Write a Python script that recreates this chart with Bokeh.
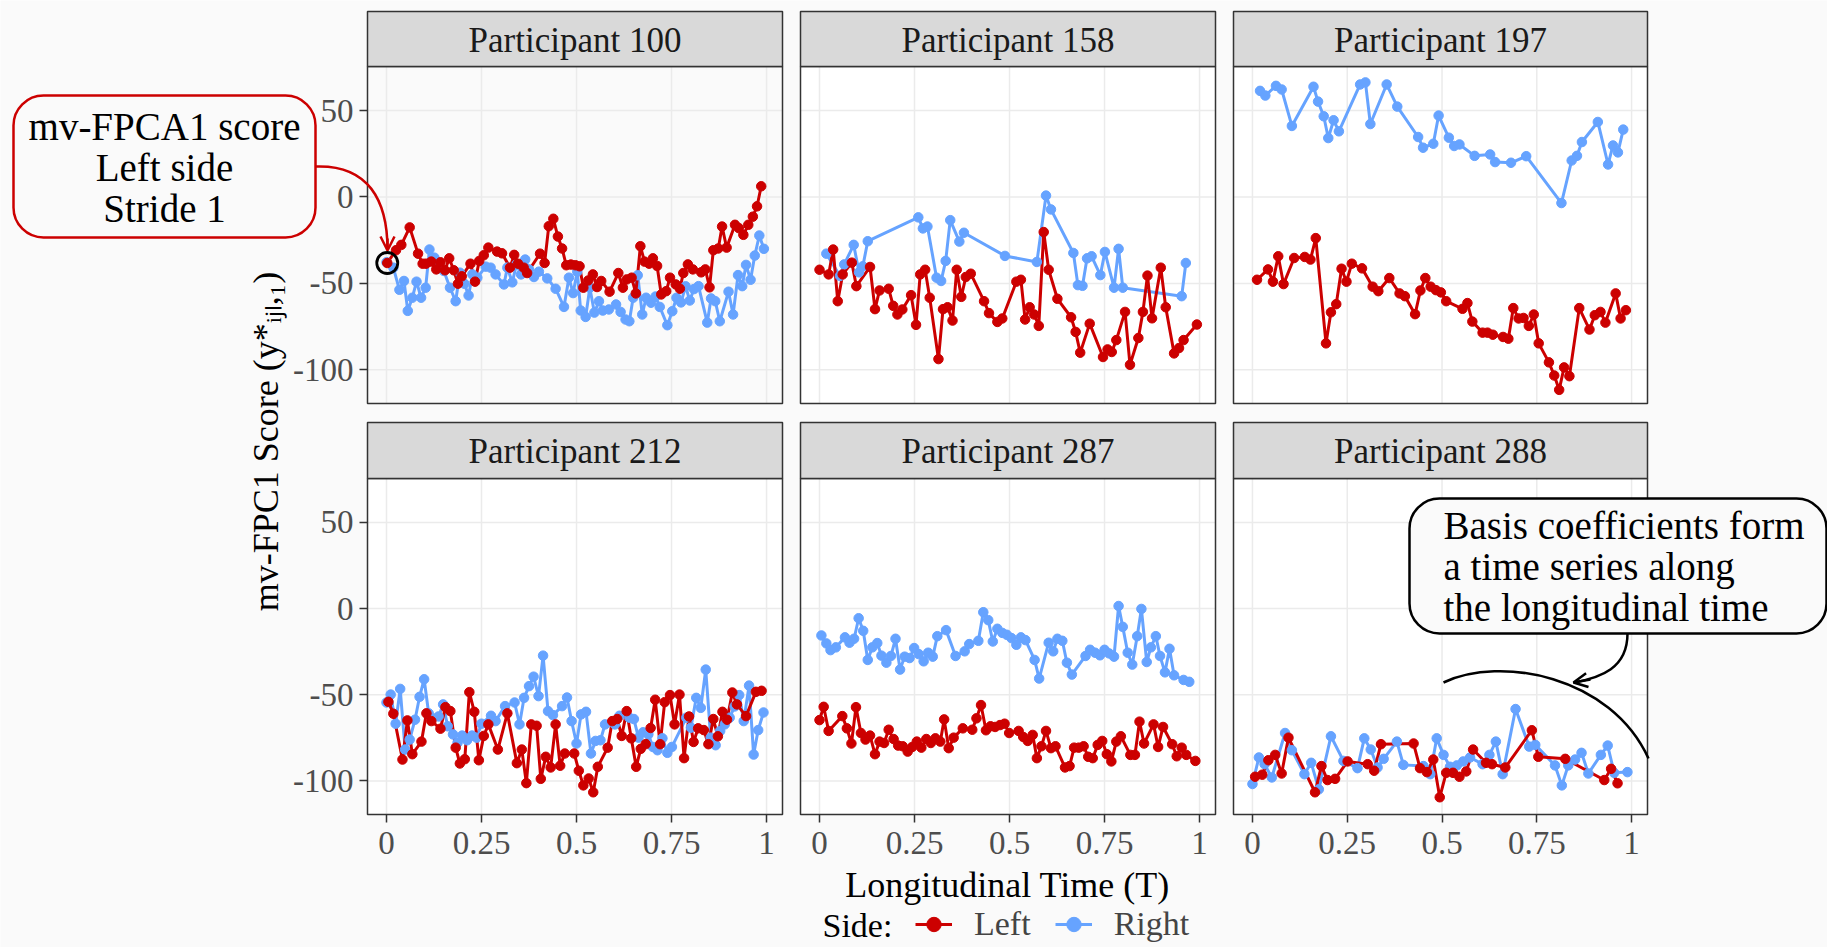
import math
from bokeh.plotting import figure
from bokeh.models import (Range1d, LinearAxis, FixedTicker, BoxAnnotation, Arrow,
                          OpenHead, Legend, LegendItem)
from bokeh.core.properties import value
from bokeh.embed import file_html
from bokeh.resources import INLINE

# ---------------- data: (longitudinal time, score) ----------------
PARTICIPANTS = ["Participant 100", "Participant 158", "Participant 197",
                "Participant 212", "Participant 287", "Participant 288"]

P100_LEFT = [(0.002,-38.2),(0.025,-30.8),(0.039,-27.7),(0.061,-17.6),(0.083,-32.8),(0.095,-38.6),(0.104,-38.6),
    (0.118,-37.4),(0.131,-41.9),(0.142,-37.8),(0.154,-42.4),(0.165,-35.5),(0.177,-42.4),(0.188,-50.2),(0.198,-45.9),
    (0.221,-38.6),(0.233,-49.0),(0.244,-37.0),(0.256,-33.7),(0.268,-29.3),(0.291,-31.6),(0.304,-32.6),(0.325,-40.9),
    (0.336,-33.5),(0.346,-38.6),(0.361,-40.9),(0.370,-44.0),(0.404,-32.8),(0.416,-38.2),(0.427,-16.9),(0.439,-12.6),
    (0.451,-22.9),(0.462,-29.8),(0.473,-39.5),(0.485,-39.1),(0.497,-39.5),(0.508,-40.1),(0.518,-52.5),(0.531,-48.3),
    (0.543,-44.8),(0.554,-52.1),(0.565,-48.6),(0.587,-54.8),(0.610,-44.0),(0.622,-52.5),(0.632,-47.7),(0.645,-46.7),
    (0.656,-55.8),(0.668,-28.5),(0.679,-37.4),(0.691,-38.6),(0.701,-35.5),(0.712,-39.9),(0.723,-56.4),(0.736,-54.5),
    (0.746,-46.7),(0.761,-50.6),(0.772,-53.1),(0.781,-44.0),(0.793,-39.0),(0.806,-41.9),(0.828,-43.6),(0.839,-41.9),
    (0.850,-52.3),(0.860,-30.8),(0.873,-29.8),(0.883,-17.1),(0.895,-29.3),(0.917,-16.1),(0.927,-18.0),(0.939,-21.9),
    (0.952,-16.1),(0.964,-11.4),(0.975,-5.4),(0.986,6.2)]
P100_RIGHT = [(0.000,-37.8),(0.018,-40.9),(0.034,-53.7),(0.046,-48.6),(0.056,-65.9),(0.068,-58.3),(0.079,-49.0),
    (0.091,-58.3),(0.103,-52.5),(0.113,-30.4),(0.126,-35.1),(0.140,-38.0),(0.151,-42.8),(0.167,-52.5),(0.182,-60.3),
    (0.193,-43.8),(0.205,-50.2),(0.216,-57.0),(0.226,-44.8),(0.239,-46.7),(0.261,-40.3),(0.274,-40.9),(0.287,-44.8),
    (0.309,-50.6),(0.318,-40.9),(0.331,-49.4),(0.342,-39.0),(0.354,-44.8),(0.365,-36.2),(0.375,-41.9),(0.388,-46.3),
    (0.401,-43.2),(0.423,-47.1),(0.445,-53.1),(0.467,-63.6),(0.480,-46.7),(0.491,-55.6),(0.502,-43.2),(0.511,-65.7),
    (0.524,-69.4),(0.535,-52.5),(0.547,-66.9),(0.559,-60.3),(0.569,-65.7),(0.585,-65.1),(0.604,-62.2),(0.616,-66.5),
    (0.629,-70.9),(0.639,-71.9),(0.649,-58.3),(0.661,-45.3),(0.673,-68.0),(0.683,-58.3),(0.696,-61.2),(0.708,-57.6),
    (0.719,-63.6),(0.739,-74.2),(0.752,-66.1),(0.763,-58.3),(0.775,-61.0),(0.787,-51.7),(0.798,-59.9),(0.809,-53.3),
    (0.821,-51.6),(0.844,-72.7),(0.854,-58.7),(0.865,-60.3),(0.877,-71.9),(0.900,-54.8),(0.912,-68.0),(0.925,-45.2),
    (0.936,-51.6),(0.946,-39.3),(0.958,-47.9),(0.969,-33.9),(0.981,-22.3),(0.993,-30.0)]

P158_LEFT = [(0.000,-42.1),(0.024,-44.8),(0.036,-30.4),(0.048,-60.3),(0.061,-44.8),(0.085,-38.0),(0.097,-51.6),
    (0.133,-40.5),(0.146,-64.9),(0.158,-54.1),(0.182,-53.1),(0.194,-63.0),(0.205,-68.0),(0.218,-65.1),(0.241,-56.8),
    (0.254,-74.0),(0.265,-44.8),(0.278,-42.1),(0.290,-58.3),(0.313,-93.8),(0.325,-64.9),(0.337,-63.8),(0.350,-71.5),
    (0.361,-42.1),(0.373,-57.8),(0.385,-46.3),(0.398,-44.4),(0.433,-60.3),(0.446,-67.2),(0.468,-72.3),(0.481,-70.3),
    (0.518,-49.0),(0.530,-47.9),(0.541,-70.9),(0.553,-63.8),(0.565,-68.0),(0.577,-74.6),(0.590,-20.3),(0.603,-42.1),
    (0.626,-58.9),(0.662,-69.6),(0.674,-78.1),(0.686,-90.1),(0.711,-73.3),(0.746,-92.6),(0.758,-88.2),(0.769,-89.7),
    (0.781,-82.8),(0.804,-66.5),(0.817,-97.1),(0.839,-81.6),(0.851,-66.5),(0.863,-45.5),(0.875,-70.2),(0.898,-40.9),
    (0.911,-63.8),(0.933,-90.5),(0.946,-87.4),(0.958,-82.8),(0.993,-73.8)]
P158_RIGHT = [(0.018,-32.8),(0.054,-45.7),(0.065,-39.0),(0.090,-27.7),(0.104,-43.6),(0.114,-40.1),(0.127,-25.6),
    (0.260,-11.8),(0.272,-18.2),(0.284,-17.1),(0.308,-46.7),(0.320,-48.6),(0.332,-37.0),(0.344,-13.4),(0.368,-25.8),
    (0.380,-20.7),(0.488,-34.1),(0.572,-37.6),(0.596,0.8),(0.609,-7.2),(0.668,-32.4),(0.680,-51.0),(0.692,-51.4),
    (0.704,-35.5),(0.716,-34.3),(0.739,-45.2),(0.751,-31.8),(0.775,-52.5),(0.787,-30.0),(0.798,-52.5),(0.953,-57.4),
    (0.964,-38.2)]

P197_LEFT = [(0.012,-47.9),(0.041,-41.9),(0.054,-49.0),(0.068,-34.3),(0.082,-50.4),(0.110,-35.3),(0.138,-34.7),
    (0.153,-36.2),(0.167,-23.8),(0.194,-84.7),(0.207,-66.7),(0.221,-62.0),(0.235,-41.5),(0.248,-49.0),(0.262,-38.6),
    (0.289,-41.3),(0.317,-51.9),(0.332,-54.5),(0.361,-46.9),(0.388,-55.8),(0.402,-57.4),(0.429,-67.8),(0.443,-54.1),
    (0.456,-46.9),(0.470,-51.9),(0.484,-53.9),(0.497,-55.2),(0.511,-60.3),(0.554,-64.7),(0.567,-61.4),(0.580,-72.1),
    (0.607,-78.5),(0.620,-78.5),(0.634,-79.7),(0.661,-81.0),(0.675,-82.0),(0.688,-64.3),(0.702,-70.3),(0.715,-70.0),
    (0.729,-74.6),(0.742,-68.0),(0.755,-84.7),(0.782,-95.7),(0.796,-103.3),(0.809,-111.6),(0.822,-98.6),(0.836,-103.7),
    (0.862,-64.3),(0.889,-76.7),(0.903,-68.4),(0.918,-66.5),(0.931,-72.7),(0.958,-55.8),(0.971,-70.3),(0.985,-65.5)]
P197_RIGHT = [(0.020,61.4),(0.034,58.7),(0.062,64.3),(0.077,62.2),(0.104,41.1),(0.161,63.8),(0.173,55.2),
    (0.188,46.7),(0.200,34.1),(0.214,44.4),(0.228,38.0),(0.284,65.1),(0.298,66.3),(0.311,42.2),(0.354,65.1),
    (0.382,52.3),(0.437,34.7),(0.450,28.5),(0.477,30.8),(0.491,47.1),(0.518,34.3),(0.532,29.5),(0.546,30.4),
    (0.586,23.8),(0.627,24.6),(0.640,20.2),(0.682,19.8),(0.722,23.6),(0.815,-3.5),(0.842,21.1),(0.856,23.8),
    (0.869,31.8),(0.911,43.4),(0.938,18.8),(0.951,29.8),(0.964,25.8),(0.978,39.0)]

P212_LEFT = [(0.005,-54.1),(0.018,-61.0),(0.042,-87.6),(0.055,-64.9),(0.068,-84.5),(0.092,-77.2),(0.105,-60.8),
    (0.118,-65.3),(0.142,-69.7),(0.155,-57.2),(0.168,-59.5),(0.182,-80.7),(0.193,-89.9),(0.206,-87.4),(0.218,-48.5),
    (0.231,-59.9),(0.243,-88.0),(0.256,-73.9),(0.268,-67.2),(0.293,-81.8),(0.318,-60.8),(0.343,-89.7),(0.356,-81.8),
    (0.368,-101.3),(0.381,-67.2),(0.395,-68.0),(0.406,-98.8),(0.419,-86.0),(0.432,-92.2),(0.445,-67.2),(0.457,-91.2),
    (0.469,-84.1),(0.494,-84.1),(0.506,-94.1),(0.518,-102.6),(0.532,-98.6),(0.544,-106.6),(0.556,-91.8),(0.582,-80.7),
    (0.594,-65.3),(0.607,-64.1),(0.619,-73.9),(0.632,-59.5),(0.644,-75.3),(0.657,-91.8),(0.669,-81.4),(0.682,-78.7),
    (0.695,-69.3),(0.707,-52.9),(0.720,-78.7),(0.732,-54.3),(0.746,-50.2),(0.758,-67.2),(0.771,-49.9),(0.783,-86.8),
    (0.796,-62.6),(0.808,-77.4),(0.820,-69.5),(0.835,-70.5),(0.847,-78.7),(0.860,-64.1),(0.872,-74.1),(0.884,-59.9),
    (0.896,-64.5),(0.910,-48.7),(0.922,-55.6),(0.946,-62.4),(0.972,-48.3),(0.987,-47.7)]
P212_RIGHT = [(0.000,-54.5),(0.011,-49.9),(0.024,-66.8),(0.036,-46.6),(0.049,-81.8),(0.061,-76.0),(0.075,-64.5),
    (0.087,-51.2),(0.099,-41.0),(0.111,-60.8),(0.137,-62.6),(0.149,-55.6),(0.161,-68.3),(0.175,-73.0),(0.187,-77.8),
    (0.199,-73.7),(0.212,-76.4),(0.225,-73.7),(0.237,-74.9),(0.250,-66.8),(0.275,-62.2),(0.287,-65.3),(0.312,-56.6),
    (0.337,-54.5),(0.350,-67.2),(0.362,-51.8),(0.375,-45.0),(0.387,-39.5),(0.400,-50.8),(0.412,-27.3),(0.425,-59.5),
    (0.438,-61.8),(0.462,-56.6),(0.475,-51.6),(0.487,-65.3),(0.500,-78.3),(0.512,-61.4),(0.525,-59.9),(0.538,-84.1),
    (0.550,-76.8),(0.563,-76.4),(0.575,-67.2),(0.601,-67.2),(0.613,-62.2),(0.639,-63.3),(0.651,-64.1),(0.663,-74.9),
    (0.675,-71.8),(0.689,-73.0),(0.701,-80.3),(0.713,-82.2),(0.726,-75.3),(0.739,-83.7),(0.751,-80.3),(0.789,-63.3),
    (0.801,-69.1),(0.815,-51.8),(0.827,-57.6),(0.840,-35.4),(0.853,-74.9),(0.866,-79.3),(0.878,-71.0),(0.890,-67.2),
    (0.903,-63.3),(0.916,-56.8),(0.928,-50.2),(0.940,-65.3),(0.954,-44.7),(0.966,-84.7),(0.978,-70.5),(0.992,-60.3)]

P287_LEFT = [(0.000,-64.7),(0.011,-57.0),(0.024,-71.0),(0.060,-62.4),(0.072,-69.5),(0.084,-78.3),(0.096,-57.2),
    (0.109,-72.2),(0.121,-76.0),(0.133,-73.7),(0.146,-84.5),(0.158,-77.2),(0.170,-78.0),(0.182,-70.3),(0.195,-75.7),
    (0.207,-79.5),(0.219,-79.9),(0.232,-83.0),(0.244,-80.3),(0.256,-77.2),(0.268,-80.7),(0.281,-75.7),(0.293,-78.0),
    (0.305,-75.3),(0.318,-77.2),(0.328,-64.3),(0.340,-81.0),(0.353,-74.9),(0.377,-69.5),(0.402,-70.3),(0.413,-63.7),
    (0.425,-56.0),(0.438,-70.6),(0.450,-68.3),(0.462,-68.7),(0.475,-67.6),(0.487,-66.8),(0.499,-72.2),(0.524,-71.0),
    (0.536,-74.5),(0.548,-76.8),(0.561,-73.3),(0.572,-86.8),(0.584,-79.9),(0.596,-71.0),(0.609,-81.0),(0.621,-79.9),
    (0.646,-92.2),(0.658,-91.4),(0.670,-80.7),(0.682,-80.7),(0.695,-79.9),(0.707,-86.0),(0.719,-86.8),(0.732,-79.1),
    (0.744,-76.8),(0.756,-84.5),(0.768,-88.7),(0.781,-77.2),(0.793,-74.1),(0.818,-84.9),(0.830,-84.9),(0.842,-65.6),
    (0.854,-78.3),(0.879,-67.2),(0.891,-80.3),(0.904,-68.7),(0.928,-78.7),(0.940,-85.7),(0.953,-80.7),(0.965,-84.9),
    (0.989,-88.4)]
P287_RIGHT = [(0.005,-15.6),(0.018,-20.2),(0.029,-24.1),(0.043,-22.5),(0.067,-16.7),(0.079,-19.8),(0.091,-17.5),
    (0.103,-5.6),(0.115,-12.9),(0.127,-29.8),(0.139,-22.5),(0.152,-20.0),(0.163,-27.3),(0.176,-31.4),(0.188,-27.5),
    (0.200,-17.5),(0.212,-35.4),(0.224,-27.9),(0.237,-28.7),(0.249,-22.9),(0.261,-26.4),(0.274,-30.6),(0.286,-25.6),
    (0.298,-27.9),(0.310,-16.0),(0.333,-12.5),(0.358,-27.5),(0.382,-24.8),(0.394,-20.6),(0.418,-18.7),(0.431,-2.1),
    (0.444,-6.7),(0.456,-19.1),(0.468,-11.7),(0.481,-14.1),(0.493,-15.2),(0.505,-17.1),(0.518,-21.0),(0.530,-16.7),
    (0.542,-18.3),(0.566,-29.8),(0.578,-40.6),(0.603,-19.8),(0.615,-24.8),(0.626,-17.5),(0.639,-18.7),(0.651,-31.4),
    (0.664,-38.3),(0.700,-27.5),(0.712,-23.9),(0.725,-25.6),(0.738,-27.1),(0.750,-23.9),(0.762,-26.0),(0.775,-27.9),
    (0.787,1.5),(0.798,-10.6),(0.811,-25.6),(0.823,-32.5),(0.836,-16.0),(0.847,-0.2),(0.861,-31.0),(0.872,-22.5),
    (0.885,-16.0),(0.896,-27.5),(0.909,-37.0),(0.921,-23.3),(0.933,-38.7),(0.958,-41.4),(0.973,-42.5)]

P288_LEFT = [(0.007,-97.6),(0.026,-96.4),(0.042,-88.0),(0.060,-84.9),(0.077,-95.7),(0.095,-74.9),(0.165,-106.6),
    (0.182,-91.4),(0.198,-99.5),(0.218,-98.8),(0.251,-88.7),(0.304,-90.3),(0.321,-94.1),(0.339,-78.7),(0.425,-78.3),
    (0.442,-92.6),(0.460,-94.9),(0.477,-87.6),(0.494,-109.5),(0.511,-95.3),(0.529,-95.3),(0.546,-97.6),(0.564,-94.5),
    (0.582,-81.8),(0.616,-89.5),(0.632,-90.3),(0.667,-92.2),(0.737,-70.6),(0.754,-86.0),(0.825,-87.2),(0.928,-99.5),
    (0.946,-93.0),(0.963,-101.4)]
P288_RIGHT = [(0.000,-101.8),(0.017,-86.4),(0.032,-90.3),(0.051,-98.0),(0.086,-72.2),(0.104,-82.2),(0.137,-96.1),
    (0.155,-89.5),(0.175,-104.9),(0.207,-74.1),(0.240,-88.4),(0.277,-92.6),(0.295,-75.3),(0.312,-81.8),(0.330,-92.2),
    (0.346,-87.2),(0.381,-77.2),(0.398,-90.7),(0.451,-91.4),(0.469,-96.1),(0.486,-75.3),(0.504,-84.9),(0.521,-91.8),
    (0.539,-91.0),(0.556,-88.7),(0.574,-86.4),(0.607,-90.3),(0.625,-84.9),(0.642,-77.2),(0.660,-96.1),(0.694,-58.3),
    (0.730,-80.1),(0.746,-79.1),(0.798,-91.0),(0.816,-102.6),(0.833,-91.0),(0.851,-87.6),(0.868,-83.7),(0.886,-95.7),
    (0.919,-84.9),(0.937,-79.5),(0.954,-95.3),(0.989,-94.9)]

LEFT_SERIES = [P100_LEFT, P158_LEFT, P197_LEFT, P212_LEFT, P287_LEFT, P288_LEFT]
RIGHT_SERIES = [P100_RIGHT, P158_RIGHT, P197_RIGHT, P212_RIGHT, P287_RIGHT, P288_RIGHT]

X_TICKS = [0, 0.25, 0.5, 0.75, 1]
X_TICK_LABELS = ["0", "0.25", "0.5", "0.75", "1"]
Y_TICKS = [-100, -50, 0, 50]
Y_TICK_LABELS = ["-100", "-50", "0", "50"]
SIDES = ["Left", "Right"]

# ---------------- layout & style ----------------
W, H = 1827, 947
XLIM = (-0.05, 1.042)
YLIM = (-119.5, 75.5)
COL_X = [(367, 782), (800, 1215), (1233, 1647)]
ROW_Y = [(66, 403), (478, 814)]
STRIP_TOP = [11, 422]
BG = "#FAFAFA"
RED = "#CC0000"
BLUE = "#66A3FF"
FRAME = "#333333"
GRID = "#EBEBEB"
FONT = value("Liberation Serif")
LW = 3.0
PT = 9.5

p = figure(width=W, height=H, output_backend="svg", toolbar_location=None,
           x_range=Range1d(0, W), y_range=Range1d(H, 0),
           x_axis_location=None, y_axis_location=None, min_border=0,
           background_fill_color=BG, border_fill_color=BG, outline_line_color=None)
p.xgrid.visible = False
p.ygrid.visible = False

legend_renderers = {"Left": [], "Right": []}

for i, name in enumerate(PARTICIPANTS):
    row, col = divmod(i, 3)
    L, R = COL_X[col]
    T, B = ROW_Y[row]
    sx = (XLIM[1] - XLIM[0]) / (R - L)
    sy = (YLIM[1] - YLIM[0]) / (B - T)
    xn, yn = f"x{i}", f"y{i}"
    p.extra_x_ranges[xn] = Range1d(XLIM[0] - L * sx, XLIM[0] + (W - L) * sx)
    p.extra_y_ranges[yn] = Range1d(YLIM[0] - (H - B) * sy, YLIM[1] + T * sy)
    kw = dict(x_range_name=xn, y_range_name=yn)

    # panel background
    p.quad(left=[XLIM[0]], right=[XLIM[1]], bottom=[YLIM[0]], top=[YLIM[1]],
           fill_color=(BG if i == 0 else "white"), line_color=None, **kw)
    # grid lines
    p.segment(x0=X_TICKS, y0=[YLIM[0]] * len(X_TICKS), x1=X_TICKS, y1=[YLIM[1]] * len(X_TICKS),
              line_color=GRID, line_width=1.5, **kw)
    p.segment(x0=[XLIM[0]] * len(Y_TICKS), y0=Y_TICKS, x1=[XLIM[1]] * len(Y_TICKS), y1=Y_TICKS,
              line_color=GRID, line_width=1.5, **kw)

    # data
    lt, lv = zip(*LEFT_SERIES[i])
    rt, rv = zip(*RIGHT_SERIES[i])
    rl = p.line(list(rt), list(rv), line_color=BLUE, line_width=LW, **kw)
    ll = p.line(list(lt), list(lv), line_color=RED, line_width=LW, **kw)
    rp = p.scatter(list(rt), list(rv), size=PT, fill_color=BLUE, line_color=BLUE, **kw)
    lp = p.scatter(list(lt), list(lv), size=PT, fill_color=RED, line_color=RED, **kw)
    if i == 0:
        legend_renderers["Left"] = [ll, lp]
        legend_renderers["Right"] = [rl, rp]

    # panel border (page coordinates)
    p.quad(left=[L], right=[R], top=[T], bottom=[B], fill_color=None,
           line_color=FRAME, line_width=1.5)
    # strip
    p.quad(left=[L], right=[R], top=[STRIP_TOP[row]], bottom=[T], fill_color="#D9D9D9",
           line_color=FRAME, line_width=1.5)
    p.text(x=[(L + R) / 2], y=[(STRIP_TOP[row] + T) / 2 + 1], text=[name], text_font=FONT,
           text_font_size="35px", text_color="#1A1A1A", text_align="center",
           text_baseline="middle")

    # axes
    if col == 0:
        ax = LinearAxis(fixed_location=XLIM[0], bounds=YLIM, ticker=FixedTicker(ticks=Y_TICKS),
                        major_label_overrides={t: s for t, s in zip(Y_TICKS, Y_TICK_LABELS)},
                        axis_line_color=None, major_tick_line_color=FRAME, major_tick_line_width=1.5,
                        major_tick_out=8, major_tick_in=0, minor_tick_line_color=None,
                        major_label_text_font="Liberation Serif", major_label_text_font_size="33px",
                        major_label_text_color="#4D4D4D", major_label_standoff=6, **kw)
        p.add_layout(ax, "left")
    if row == 1:
        ax = LinearAxis(fixed_location=YLIM[0], bounds=XLIM, ticker=FixedTicker(ticks=X_TICKS),
                        major_label_overrides={t: s for t, s in zip(X_TICKS, X_TICK_LABELS)},
                        axis_line_color=None, major_tick_line_color=FRAME, major_tick_line_width=1.5,
                        major_tick_out=8, major_tick_in=0, minor_tick_line_color=None,
                        major_label_text_font="Liberation Serif", major_label_text_font_size="33px",
                        major_label_text_color="#4D4D4D", major_label_standoff=9, **kw)
        p.add_layout(ax, "below")

# highlighted first stride (Participant 100, left side)
p.scatter(x=[P100_LEFT[0][0]], y=[P100_LEFT[0][1]], size=21, fill_alpha=0, line_color="black",
          line_width=2.8, x_range_name="x0", y_range_name="y0")

# ---------------- annotations ----------------
p.add_layout(BoxAnnotation(left=13, right=315, top=95, bottom=237, border_radius=30,
                           fill_color=BG, fill_alpha=1, line_color=RED, line_alpha=1,
                           line_width=2.5))
p.text(x=[164], y=[167], text=["mv-FPCA1 score\nLeft side\nStride 1"], text_font=FONT,
       text_font_size="39px", text_align="center", text_baseline="middle",
       text_line_height=0.96, text_color="black", level="overlay")
p.bezier(x0=[315], y0=[166], x1=[387], y1=[249], cx0=[368], cy0=[164], cx1=[387], cy1=[200],
         line_color=RED, line_width=2.5)
p.add_layout(Arrow(x_start=387, y_start=238, x_end=387, y_end=250, line_color=RED, line_width=2.5,
                   end=OpenHead(size=14, line_color=RED, line_width=2.5)))

p.add_layout(BoxAnnotation(left=1409, right=1826, top=498, bottom=633, border_radius=30,
                           fill_color=BG, fill_alpha=1, line_color="black", line_alpha=1,
                           line_width=2.5))
p.text(x=[1443], y=[566], text=["Basis coefficients form\na time series along\nthe longitudinal time"],
       text_font=FONT, text_font_size="39px", text_align="left", text_baseline="middle",
       text_line_height=0.96, text_color="black", level="overlay")
p.bezier(x0=[1627], y0=[633], x1=[1574], y1=[682], cx0=[1627], cy0=[668], cx1=[1600], cy1=[677],
         line_color="black", line_width=2.5)
p.add_layout(Arrow(x_start=1590, y_start=679, x_end=1573, y_end=682, line_color="black", line_width=2.5,
                   end=OpenHead(size=14, line_color="black", line_width=2.5)))
p.bezier(x0=[1443], y0=[682], x1=[1648], y1=[758], cx0=[1500], cy0=[655], cx1=[1610], cy1=[675],
         line_color="black", line_width=2.5)

# axis titles
p.text(x=[1007], y=[884], text=["Longitudinal Time (T)"], text_font=FONT, text_font_size="36px",
       text_align="center", text_baseline="middle", text_color="black")
p.text(x=[265], y=[441], text=["mv-FPC1 Score (y*ᵢⱼₗ,₁)"], text_font=FONT, text_font_size="36px",
       text_align="center", text_baseline="middle", text_color="black", angle=math.pi / 2)

# legend
p.text(x=[822], y=[925], text=["Side:"], text_font=FONT, text_font_size="34px",
       text_align="left", text_baseline="middle", text_color="black")
legend = Legend(items=[LegendItem(label=s, renderers=legend_renderers[s]) for s in SIDES],
                orientation="horizontal", location=(915, 4), glyph_width=37, glyph_height=36,
                label_height=36, label_standoff=22, spacing=24, padding=0, margin=0,
                label_text_font="Liberation Serif", label_text_font_size="34px",
                background_fill_alpha=0, border_line_alpha=0)
p.add_layout(legend, "center")

open("out.html", "w").write(file_html(p, INLINE))
